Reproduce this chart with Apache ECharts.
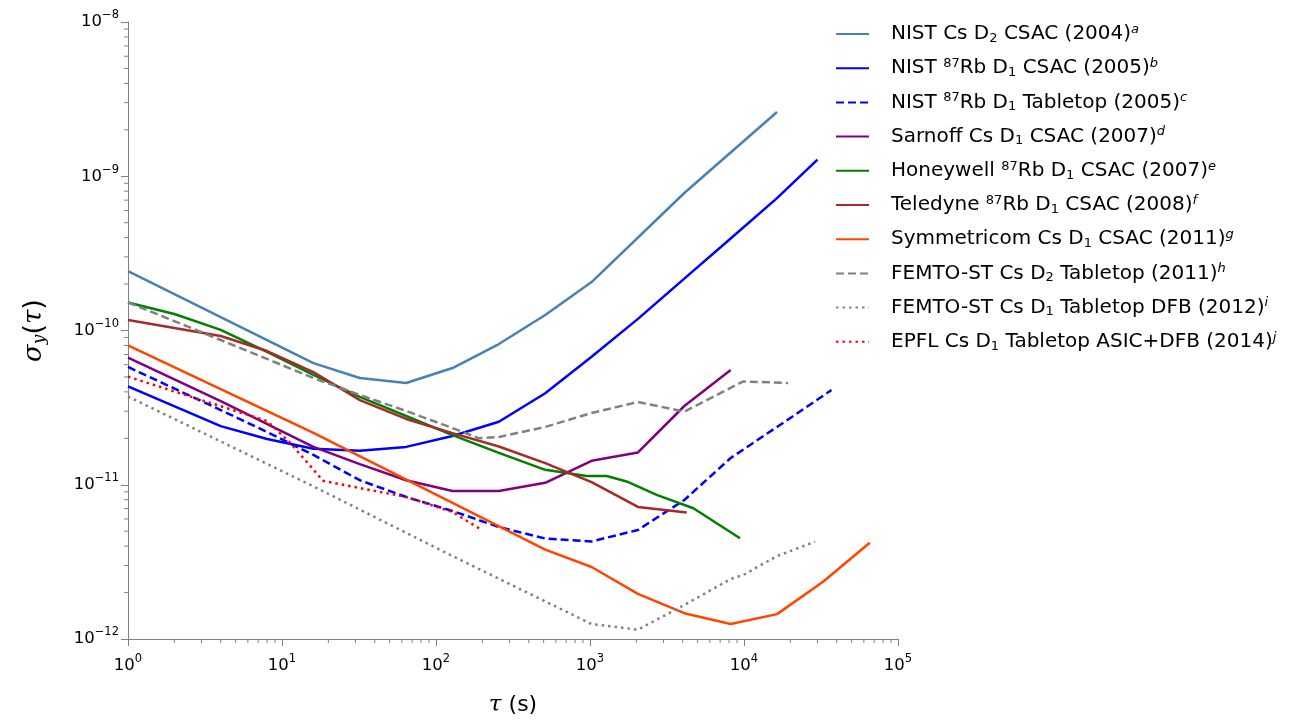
<!DOCTYPE html>
<html><head><meta charset="utf-8">
<script src="https://cdn.jsdelivr.net/npm/echarts@6/dist/echarts.min.js"></script>
<style>html,body{margin:0;padding:0;background:#fff}#c{width:1304px;height:723px}</style>
</head><body><div id="c"></div>
<script>
// ---- data (tau [s], sigma_y) ----
const nistCsD2Csac = [[1,2.43e-10],[16,6.15e-11],[32,4.92e-11],[64,4.57e-11],[128,5.71e-11],[256,8.17e-11],[512,1.26e-10],[1024,2.06e-10],[4096,7.79e-10],[16384,2.61e-9]];
const nistRbCsac = [[1,4.34e-11],[4,2.40e-11],[8,1.98e-11],[16,1.71e-11],[32,1.66e-11],[64,1.76e-11],[128,2.07e-11],[256,2.56e-11],[512,3.92e-11],[1024,6.76e-11],[2048,1.19e-10],[4096,2.17e-10],[8192,3.95e-10],[16384,7.21e-10],[30000,1.28e-9]];
const nistRbTabletop = [[1,5.80e-11],[4,3.05e-11],[8,2.20e-11],[16,1.56e-11],[32,1.07e-11],[64,8.33e-12],[128,6.76e-12],[256,5.32e-12],[512,4.48e-12],[1024,4.29e-12],[2048,5.09e-12],[4096,7.96e-12],[8192,1.49e-11],[16384,2.37e-11],[37000,4.11e-11]];
const sarnoffCsac = [[1,6.68e-11],[4,3.49e-11],[16,1.76e-11],[32,1.36e-11],[64,1.07e-11],[128,9.11e-12],[256,9.11e-12],[512,1.03e-11],[1024,1.43e-11],[2048,1.62e-11],[4096,3.24e-11],[8192,5.54e-11]];
const honeywellCsac = [[1,1.52e-10],[2,1.28e-10],[4,1.01e-10],[8,7.26e-11],[16,5.15e-11],[32,3.71e-11],[64,2.79e-11],[128,2.10e-11],[256,1.61e-11],[512,1.25e-11],[952,1.14e-11],[1283,1.14e-11],[1730,1.05e-11],[2710,8.59e-12],[4690,7.04e-12],[9420,4.50e-12]];
const teledyneCsac = [[1,1.17e-10],[4,9.21e-11],[8,7.36e-11],[16,5.38e-11],[32,3.54e-11],[64,2.67e-11],[128,2.16e-11],[256,1.77e-11],[512,1.38e-11],[1024,1.04e-11],[2048,7.18e-12],[4246,6.61e-12]];
const symmetricomCsac = [[1,8.0e-11],[16,2.17e-11],[128,7.62e-12],[512,3.80e-12],[1024,2.93e-12],[2048,1.96e-12],[4096,1.47e-12],[8192,1.25e-12],[16384,1.45e-12],[32768,2.36e-12],[65536,4.21e-12]];
const femtoD2Tabletop = [[1,1.52e-10],[4,8.68e-11],[16,4.92e-11],[32,3.82e-11],[64,3.01e-11],[128,2.33e-11],[190,2.0e-11],[256,2.04e-11],[512,2.37e-11],[1024,2.92e-11],[2048,3.44e-11],[4096,2.98e-11],[9860,4.67e-11],[19300,4.57e-11]];
const femtoD1Dfb = [[1,3.73e-11],[16,9.76e-12],[128,3.45e-12],[1024,1.25e-12],[2048,1.15e-12],[4096,1.66e-12],[8192,2.45e-12],[9890,2.60e-12],[16384,3.45e-12],[28900,4.27e-12]];
const epflAsicDfb = [[1,5.02e-11],[8,2.59e-11],[11.3,1.87e-11],[18.5,1.06e-11],[32,9.53e-12],[64,8.33e-12],[128,6.66e-12],[198,5.09e-12]];

const seriesNames = ['NIST Cs D2 CSAC (2004)a','NIST 87Rb D1 CSAC (2005)b','NIST 87Rb D1 Tabletop (2005)c','Sarnoff Cs D1 CSAC (2007)d','Honeywell 87Rb D1 CSAC (2007)e','Teledyne 87Rb D1 CSAC (2008)f','Symmetricom Cs D1 CSAC (2011)g','FEMTO-ST Cs D2 Tabletop (2011)h','FEMTO-ST Cs D1 Tabletop DFB (2012)i','EPFL Cs D1 Tabletop ASIC+DFB (2014)j'];
// rich legend labels
const legendRich = [
  '{t|NIST Cs D}{sub|2}{t| CSAC (2004)}{sup|a}',
  '{t|NIST }{iso|87}{t|Rb D}{sub|1}{t| CSAC (2005)}{sup|b}',
  '{t|NIST }{iso|87}{t|Rb D}{sub|1}{t| Tabletop (2005)}{sup|c}',
  '{t|Sarnoff Cs D}{sub|1}{t| CSAC (2007)}{sup|d}',
  '{t|Honeywell }{iso|87}{t|Rb D}{sub|1}{t| CSAC (2007)}{sup|e}',
  '{t|Teledyne }{iso|87}{t|Rb D}{sub|1}{t| CSAC (2008)}{sup|f}',
  '{t|Symmetricom Cs D}{sub|1}{t| CSAC (2011)}{sup|g}',
  '{t|FEMTO-ST Cs D}{sub|2}{t| Tabletop (2011)}{sup|h}',
  '{t|FEMTO-ST Cs D}{sub|1}{t| Tabletop DFB (2012)}{sup|i}',
  '{t|EPFL Cs D}{sub|1}{t| Tabletop ASIC+DFB (2014)}{sup|j}'
];
const seriesData = [nistCsD2Csac, nistRbCsac, nistRbTabletop, sarnoffCsac, honeywellCsac, teledyneCsac, symmetricomCsac, femtoD2Tabletop, femtoD1Dfb, epflAsicDfb];
const colors = ['#4682B4','#0000FF','#0000FF','#800080','#008000','#A52A2A','#FF4500','#808080','#808080','#FF0000'];
const dashes = ['solid','solid',[8,4],'solid','solid','solid','solid',[8,4],[2.5,4],[2.5,4]];

const xTickExps = [0,1,2,3,4,5];
const yTickExps = [-12,-11,-10,-9,-8];

const FONT = 'DejaVu Sans';
const AXC = '#808080';

// minor ticks (2..9 x 10^k)
const xMinor = [], yMinor = [];
for (let k = 0; k < 5; k++) for (let m = 2; m <= 9; m++) xMinor.push([m * Math.pow(10, k), 1e-12]);
for (let k = -12; k < -8; k++) for (let m = 2; m <= 9; m++) yMinor.push([1, m * Math.pow(10, k)]);

function supLabel(v){
  const e = Math.round(Math.log10(v));
  return '{b|10}{s|' + (e < 0 ? '\u2212' + (-e) : e) + '}';
}
const tickRich = {
  b: {fontSize: 16.5, fontFamily: FONT, color: '#000'},
  s: {fontSize: 11.5, fontFamily: FONT, color: '#000', verticalAlign: 'top', lineHeight: 25}
};

const chart = echarts.init(document.getElementById('c'), null, {renderer: 'canvas'});
const lineSeries = seriesNames.map((n, i) => ({
  name: n, type: 'line', data: seriesData[i], symbol: 'none', smooth: false,
  lineStyle: {color: colors[i], width: 2.5, type: dashes[i], cap: 'butt'},
  itemStyle: {color: colors[i]}, z: 3
}));
function tickSeries(data, horiz){
  return {
    type: 'custom', data: data, clip: false, silent: true, z: 1,
    renderItem(params, api){
      const p = api.coord([api.value(0), api.value(1)]);
      return horiz
        ? {type: 'line', shape: {x1: p[0], y1: p[1], x2: p[0], y2: p[1] + 4}, style: {stroke: AXC, lineWidth: 1}}
        : {type: 'line', shape: {x1: p[0], y1: p[1], x2: p[0] - 4, y2: p[1]}, style: {stroke: AXC, lineWidth: 1}};
    }
  };
}

chart.setOption({
  animation: false,
  backgroundColor: '#fff',
  grid: {left: 128, top: 22, width: 770, height: 617, containLabel: false},
  xAxis: {
    type: 'log', logBase: 10, min: 1, max: 1e5,
    axisLine: {lineStyle: {color: AXC, width: 1}},
    axisTick: {length: 7, lineStyle: {color: AXC}},
    splitLine: {show: false},
    axisLabel: {formatter: supLabel, rich: tickRich, margin: 14},
    name: '{i|\u03C4}{t| (s)}', nameLocation: 'middle', nameGap: 55,
    nameTextStyle: {rich: {i: {fontSize: 23, fontFamily: 'DejaVu Serif', fontStyle: 'italic', color: '#000'}, t: {fontSize: 22, fontFamily: FONT, color: '#000'}}}
  },
  yAxis: {
    type: 'log', logBase: 10, min: 1e-12, max: 1e-8,
    axisLine: {lineStyle: {color: AXC, width: 1}},
    axisTick: {length: 7, lineStyle: {color: AXC}},
    splitLine: {show: false},
    axisLabel: {formatter: supLabel, rich: tickRich, margin: 9},
    name: '{i|\u03C3}{sb|y}{t|(}{i|\u03C4}{t|)}', nameLocation: 'middle', nameGap: 80, nameRotate: 90,
    nameTextStyle: {rich: {
      i: {fontSize: 26, fontFamily: 'DejaVu Serif', fontStyle: 'italic', color: '#000'},
      sb: {fontSize: 17, fontFamily: 'DejaVu Serif', fontStyle: 'italic', color: '#000', verticalAlign: 'bottom', lineHeight: 22},
      t: {fontSize: 27, fontFamily: FONT, color: '#000'}
    }}
  },
  legend: {
    data: seriesNames, orient: 'vertical', left: 835, top: 23, padding: 0,
    itemWidth: 33, itemHeight: 14, itemGap: 12.2,
    itemStyle: {color: 'rgba(0,0,0,0)', borderColor: 'rgba(0,0,0,0)', borderWidth: 0, opacity: 0},
    formatter: name => legendRich[seriesNames.indexOf(name)],
    textStyle: {padding: [0, 0, 0, 17], rich: {
      t: {fontSize: 20, fontFamily: FONT, color: '#000', lineHeight: 22},
      iso: {fontSize: 13, fontFamily: FONT, color: '#000', verticalAlign: 'top', lineHeight: 18},
      sub: {fontSize: 13, fontFamily: FONT, color: '#000', verticalAlign: 'bottom', lineHeight: 22},
      sup: {fontSize: 13, fontFamily: FONT, fontStyle: 'italic', color: '#000', verticalAlign: 'top', lineHeight: 18}
    }}
  },
  series: lineSeries.concat([tickSeries(xMinor, true), tickSeries(yMinor, false)])
});
</script></body></html>
